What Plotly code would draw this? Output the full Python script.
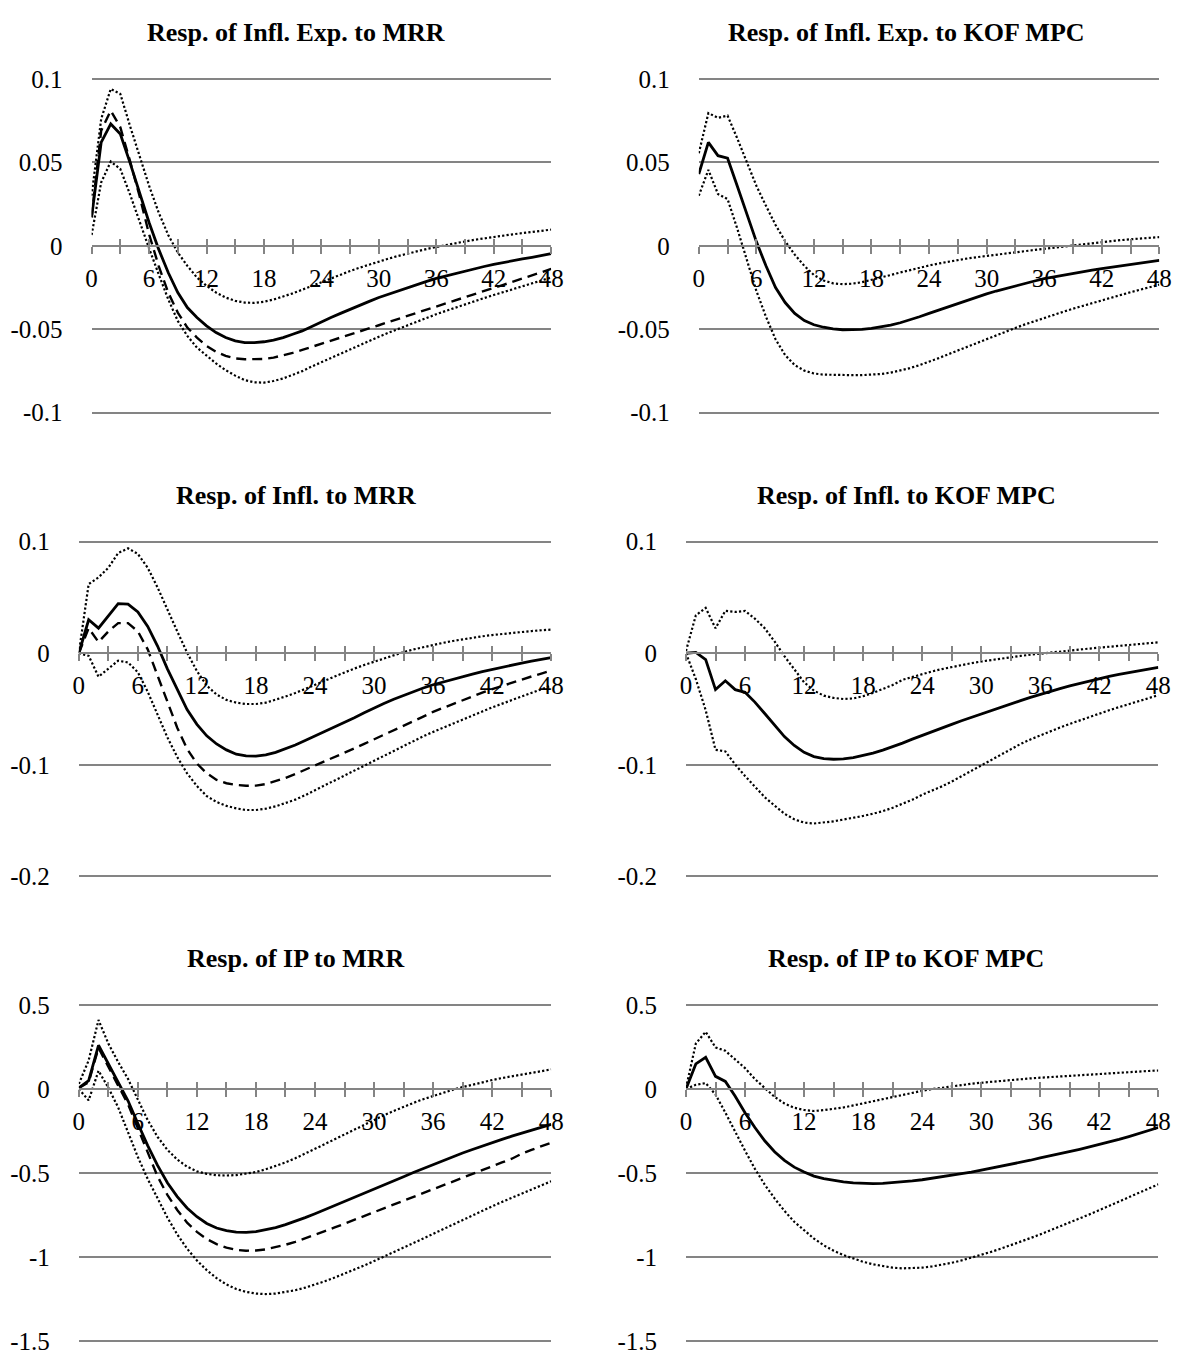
import plotly.graph_objects as go

horizon = list(range(49))

# ---------- Panel 1: Resp. of Infl. Exp. to MRR ----------
ie_mrr_est = [0.017, 0.062, 0.073, 0.067, 0.050, 0.032, 0.014, -0.002, -0.016, -0.028,
              -0.037, -0.043, -0.048, -0.052, -0.055, -0.057, -0.058, -0.058, -0.0575, -0.0565,
              -0.055, -0.053, -0.051, -0.0484, -0.0456, -0.043, -0.0405, -0.038, -0.0356, -0.0333,
              -0.031, -0.029, -0.027, -0.025, -0.0231, -0.0213, -0.0195, -0.018, -0.0165, -0.015,
              -0.0137, -0.0124, -0.0111, -0.0099, -0.0089, -0.0079, -0.0069, -0.0058, -0.0047]
ie_mrr_alt = [0.017, 0.069, 0.081, 0.071, 0.051, 0.030, 0.007, -0.012, -0.028, -0.040,
              -0.049, -0.055, -0.060, -0.0635, -0.066, -0.0675, -0.068, -0.068, -0.0678, -0.067,
              -0.0658, -0.0642, -0.0624, -0.0606, -0.0587, -0.0569, -0.0551, -0.0533, -0.0514, -0.0495,
              -0.0476, -0.0457, -0.0438, -0.0419, -0.040, -0.0382, -0.0364, -0.0345, -0.0326, -0.0307,
              -0.0288, -0.027, -0.0252, -0.0234, -0.0216, -0.0198, -0.0178, -0.0158, -0.0138]
ie_mrr_up = [0.030, 0.076, 0.094, 0.091, 0.072, 0.054, 0.036, 0.020, 0.0065, -0.004,
             -0.012, -0.019, -0.024, -0.028, -0.031, -0.033, -0.034, -0.0342, -0.0335, -0.0322,
             -0.0305, -0.0285, -0.0263, -0.024, -0.0217, -0.0194, -0.0172, -0.0151, -0.0131, -0.0112,
             -0.0094, -0.0077, -0.0061, -0.0046, -0.0032, -0.0019, -0.0007, 0.0005, 0.0016, 0.0026,
             0.0036, 0.0045, 0.0054, 0.0062, 0.0069, 0.0076, 0.0083, 0.009, 0.0097]
ie_mrr_lo = [0.0065, 0.038, 0.0505, 0.046, 0.031, 0.0143, -0.0015, -0.017, -0.032, -0.045,
             -0.054, -0.061, -0.066, -0.0705, -0.0745, -0.0778, -0.0805, -0.0818, -0.082, -0.081,
             -0.0795, -0.0774, -0.0751, -0.0723, -0.0697, -0.0671, -0.0645, -0.062, -0.0595, -0.057,
             -0.0545, -0.0521, -0.0498, -0.0475, -0.0453, -0.0431, -0.041, -0.039, -0.037, -0.035,
             -0.0331, -0.0313, -0.0295, -0.0277, -0.026, -0.0243, -0.0226, -0.0208, -0.019]

# ---------- Panel 2: Resp. of Infl. Exp. to KOF MPC ----------
ie_kof_est = [0.043, 0.062, 0.054, 0.0525, 0.036, 0.019, 0.0025, -0.012, -0.025, -0.034,
              -0.0405, -0.0448, -0.0473, -0.0488, -0.0498, -0.0503, -0.0504, -0.0501, -0.0495, -0.0486,
              -0.0475, -0.0461, -0.0445, -0.0425, -0.0405, -0.0385, -0.0365, -0.0345, -0.0325, -0.0306,
              -0.0288, -0.0271, -0.0255, -0.024, -0.0225, -0.0211, -0.0197, -0.0186, -0.0175, -0.0165,
              -0.0155, -0.0146, -0.0137, -0.0129, -0.0121, -0.0113, -0.0105, -0.0097, -0.0088]
ie_kof_up = [0.0555, 0.0795, 0.0767, 0.078, 0.0645, 0.0497, 0.036, 0.024, 0.0125, 0.0028,
             -0.0053, -0.012, -0.0175, -0.0208, -0.0225, -0.023, -0.0227, -0.0218, -0.0205, -0.019,
             -0.0175, -0.016, -0.0145, -0.0131, -0.0118, -0.0106, -0.0095, -0.0085, -0.0076, -0.0068,
             -0.006, -0.0053, -0.0046, -0.0039, -0.0032, -0.0025, -0.0018, -0.0011, -0.0004, 0.0003,
             0.001, 0.0017, 0.0023, 0.0029, 0.0034, 0.0039, 0.0044, 0.0048, 0.0052]
ie_kof_lo = [0.030, 0.0455, 0.031, 0.028, 0.0105, -0.009, -0.027, -0.0425, -0.056, -0.0655,
             -0.0715, -0.0748, -0.0765, -0.0772, -0.0774, -0.0775, -0.0775, -0.0775, -0.0773, -0.0768,
             -0.076, -0.0748, -0.0733, -0.0715, -0.0695, -0.0673, -0.065, -0.0627, -0.0603, -0.058,
             -0.0557, -0.0535, -0.0513, -0.0492, -0.0471, -0.0451, -0.0432, -0.0413, -0.0395, -0.0377,
             -0.036, -0.0343, -0.0326, -0.031, -0.0294, -0.0278, -0.0263, -0.0248, -0.0233]

# ---------- Panel 3: Resp. of Infl. to MRR ----------
inf_mrr_est = [0.0, 0.030, 0.0225, 0.033, 0.0445, 0.044, 0.037, 0.024, 0.0065, -0.014,
               -0.033, -0.0505, -0.0637, -0.074, -0.0813, -0.0866, -0.0905, -0.092, -0.0922, -0.091,
               -0.0888, -0.0858, -0.0822, -0.0782, -0.0742, -0.0703, -0.0664, -0.0625, -0.0579, -0.0534,
               -0.049, -0.045, -0.0412, -0.0376, -0.0342, -0.0311, -0.0282, -0.0257, -0.0233, -0.021,
               -0.0187, -0.0165, -0.0144, -0.0124, -0.0105, -0.0088, -0.0071, -0.0055, -0.004]
inf_mrr_alt = [0.0, 0.0225, 0.010, 0.0196, 0.027, 0.027, 0.0196, 0.0035, -0.020, -0.0433,
               -0.0667, -0.0857, -0.0988, -0.1076, -0.1135, -0.1165, -0.118, -0.1188, -0.1186, -0.1172,
               -0.1148, -0.1117, -0.1082, -0.1045, -0.1008, -0.097, -0.0932, -0.0893, -0.0853, -0.0812,
               -0.0772, -0.0732, -0.0692, -0.0653, -0.0615, -0.0568, -0.0525, -0.049, -0.0455, -0.042,
               -0.0386, -0.0353, -0.0322, -0.0292, -0.0263, -0.0235, -0.0208, -0.0182, -0.0156]
inf_mrr_up = [0.0, 0.062, 0.068, 0.0766, 0.0898, 0.094, 0.089, 0.0766, 0.059, 0.0386,
              0.0196, 0.0006, -0.016, -0.029, -0.037, -0.0418, -0.0443, -0.0455, -0.0455, -0.0443,
              -0.0418, -0.0388, -0.0356, -0.0321, -0.0285, -0.0247, -0.0208, -0.017, -0.0137, -0.0105,
              -0.0075, -0.0046, -0.0018, 0.001, 0.0034, 0.0055, 0.0075, 0.0093, 0.011, 0.0125,
              0.0139, 0.0152, 0.0163, 0.0173, 0.0182, 0.0191, 0.0199, 0.0206, 0.0212]
inf_mrr_lo = [0.0, -0.0023, -0.021, -0.014, -0.0067, -0.0082, -0.017, -0.0345, -0.055, -0.0754,
              -0.093, -0.1076, -0.119, -0.128, -0.1333, -0.1368, -0.139, -0.1405, -0.1405, -0.1393,
              -0.1372, -0.1345, -0.1312, -0.1272, -0.1225, -0.1183, -0.114, -0.1096, -0.1051, -0.1006,
              -0.096, -0.0915, -0.087, -0.0826, -0.0784, -0.0744, -0.0705, -0.0667, -0.063, -0.0594,
              -0.0559, -0.0522, -0.0485, -0.0452, -0.042, -0.0386, -0.0353, -0.0321, -0.029]

# ---------- Panel 4: Resp. of Infl. to KOF MPC ----------
inf_kof_est = [0.0, 0.0008, -0.0056, -0.0326, -0.0247, -0.0326, -0.035, -0.0438, -0.054, -0.0644,
               -0.0747, -0.0826, -0.0888, -0.0926, -0.0944, -0.095, -0.0947, -0.0935, -0.0918, -0.0895,
               -0.0868, -0.0838, -0.0805, -0.077, -0.0735, -0.0702, -0.0669, -0.0637, -0.0605, -0.0574,
               -0.0544, -0.0514, -0.0484, -0.0455, -0.0425, -0.0396, -0.0368, -0.0342, -0.0317, -0.0293,
               -0.027, -0.0248, -0.0227, -0.0208, -0.019, -0.0173, -0.0157, -0.0141, -0.0126]
inf_kof_up = [0.002, 0.034, 0.0406, 0.0224, 0.038, 0.037, 0.038, 0.031, 0.0224, 0.0106,
              -0.0026, -0.0144, -0.026, -0.0335, -0.038, -0.040, -0.041, -0.0405, -0.0385, -0.0355,
              -0.032, -0.0285, -0.0238, -0.0211, -0.0186, -0.0163, -0.0142, -0.0123, -0.0105, -0.0089,
              -0.0074, -0.006, -0.0047, -0.0035, -0.0024, -0.0013, -0.0003, 0.0007, 0.0016, 0.0025,
              0.0034, 0.0042, 0.005, 0.0058, 0.0066, 0.0074, 0.0082, 0.009, 0.0098]
inf_kof_lo = [0.0, -0.0232, -0.051, -0.0865, -0.088, -0.0997, -0.11, -0.12, -0.129, -0.1365,
              -0.1438, -0.1488, -0.1518, -0.1526, -0.1518, -0.1506, -0.149, -0.1476, -0.1458, -0.1438,
              -0.1415, -0.1385, -0.135, -0.1312, -0.1268, -0.1232, -0.1193, -0.115, -0.1102, -0.1052,
              -0.1002, -0.0953, -0.0905, -0.0858, -0.0813, -0.0772, -0.0735, -0.070, -0.0666, -0.0633,
              -0.0601, -0.057, -0.054, -0.0511, -0.0483, -0.0455, -0.0428, -0.0402, -0.0376]

# ---------- Panel 5: Resp. of IP to MRR ----------
ip_mrr_est = [0.006, 0.05, 0.26, 0.15, 0.04, -0.07, -0.205, -0.337, -0.455, -0.558,
              -0.64, -0.708, -0.76, -0.80, -0.827, -0.843, -0.851, -0.853, -0.849, -0.839,
              -0.825, -0.807, -0.787, -0.765, -0.742, -0.718, -0.694, -0.67, -0.646, -0.621,
              -0.597, -0.572, -0.547, -0.522, -0.497, -0.473, -0.449, -0.426, -0.403, -0.381,
              -0.36, -0.339, -0.319, -0.30, -0.281, -0.263, -0.245, -0.228, -0.211]
ip_mrr_alt = [0.006, 0.04, 0.245, 0.13, 0.02, -0.09, -0.235, -0.385, -0.52, -0.63,
              -0.72, -0.795, -0.85, -0.893, -0.923, -0.944, -0.957, -0.962, -0.961, -0.954,
              -0.942, -0.927, -0.909, -0.889, -0.868, -0.846, -0.824, -0.801, -0.778, -0.755,
              -0.732, -0.709, -0.686, -0.663, -0.64, -0.617, -0.594, -0.571, -0.548, -0.525,
              -0.503, -0.481, -0.459, -0.437, -0.415, -0.385, -0.362, -0.341, -0.32]
ip_mrr_up = [0.03, 0.17, 0.41, 0.27, 0.16, 0.06, -0.063, -0.185, -0.285, -0.362,
             -0.42, -0.462, -0.49, -0.505, -0.513, -0.515, -0.512, -0.505, -0.494, -0.478,
             -0.459, -0.437, -0.412, -0.385, -0.357, -0.328, -0.299, -0.27, -0.241, -0.212,
             -0.184, -0.157, -0.131, -0.106, -0.083, -0.061, -0.041, -0.022, -0.005, 0.011,
             0.026, 0.04, 0.053, 0.065, 0.076, 0.087, 0.097, 0.107, 0.116]
ip_mrr_lo = [0.0, -0.068, 0.108, 0.008, -0.11, -0.255, -0.405, -0.535, -0.655, -0.765,
             -0.865, -0.95, -1.02, -1.078, -1.125, -1.163, -1.19, -1.207, -1.217, -1.22,
             -1.217, -1.209, -1.197, -1.182, -1.164, -1.144, -1.122, -1.099, -1.075, -1.05,
             -1.024, -0.998, -0.972, -0.945, -0.918, -0.89, -0.862, -0.834, -0.806, -0.779,
             -0.752, -0.725, -0.698, -0.672, -0.647, -0.622, -0.597, -0.573, -0.549]

# ---------- Panel 6: Resp. of IP to KOF MPC ----------
ip_kof_est = [0.0, 0.149, 0.188, 0.075, 0.045, -0.043, -0.141, -0.229, -0.308, -0.373,
              -0.425, -0.465, -0.494, -0.518, -0.533, -0.545, -0.553, -0.559, -0.562, -0.563,
              -0.562, -0.558, -0.553, -0.547, -0.54, -0.532, -0.523, -0.514, -0.504, -0.494,
              -0.483, -0.472, -0.461, -0.45, -0.438, -0.424, -0.41, -0.398, -0.385, -0.372,
              -0.359, -0.345, -0.331, -0.316, -0.30, -0.283, -0.265, -0.247, -0.229]
ip_kof_up = [0.006, 0.27, 0.34, 0.247, 0.227, 0.173, 0.124, 0.059, 0.006, -0.047,
             -0.086, -0.112, -0.125, -0.131, -0.126, -0.12, -0.11, -0.098, -0.085, -0.072,
             -0.059, -0.046, -0.034, -0.022, -0.011, -0.001, 0.008, 0.016, 0.024, 0.031,
             0.037, 0.043, 0.048, 0.053, 0.058, 0.063, 0.067, 0.071, 0.075, 0.079,
             0.083, 0.087, 0.09, 0.094, 0.097, 0.10, 0.104, 0.107, 0.11]
ip_kof_lo = [0.0, 0.025, 0.035, -0.033, -0.141, -0.259, -0.367, -0.475, -0.569, -0.651,
             -0.725, -0.79, -0.843, -0.89, -0.93, -0.962, -0.988, -1.01, -1.028, -1.043,
             -1.055, -1.063, -1.067, -1.067, -1.063, -1.056, -1.046, -1.034, -1.02, -1.004,
             -0.987, -0.969, -0.95, -0.93, -0.909, -0.887, -0.865, -0.842, -0.819, -0.795,
             -0.771, -0.746, -0.721, -0.696, -0.671, -0.645, -0.619, -0.593, -0.567]

titles = ["Resp. of Infl. Exp. to MRR", "Resp. of Infl. Exp. to KOF MPC",
          "Resp. of Infl. to MRR", "Resp. of Infl. to KOF MPC",
          "Resp. of IP to MRR", "Resp. of IP to KOF MPC"]

y_ticks_ie = [-0.1, -0.05, 0, 0.05, 0.1]
y_text_ie = ["-0.1", "-0.05", "0", "0.05", "0.1"]
y_ticks_inf = [-0.2, -0.1, 0, 0.1]
y_text_inf = ["-0.2", "-0.1", "0", "0.1"]
y_ticks_ip = [-1.5, -1, -0.5, 0, 0.5]
y_text_ip = ["-1.5", "-1", "-0.5", "0", "0.5"]

x_tick_vals = list(range(0, 49, 3))
x_tick_text = [str(v) if v % 6 == 0 else "" for v in x_tick_vals]

panels = [
    dict(title=titles[0], est=ie_mrr_est, alt=ie_mrr_alt, up=ie_mrr_up, lo=ie_mrr_lo,
         yr=[-0.1, 0.1], yt=y_ticks_ie, ytt=y_text_ie),
    dict(title=titles[1], est=ie_kof_est, alt=None, up=ie_kof_up, lo=ie_kof_lo,
         yr=[-0.1, 0.1], yt=y_ticks_ie, ytt=y_text_ie),
    dict(title=titles[2], est=inf_mrr_est, alt=inf_mrr_alt, up=inf_mrr_up, lo=inf_mrr_lo,
         yr=[-0.2, 0.1], yt=y_ticks_inf, ytt=y_text_inf),
    dict(title=titles[3], est=inf_kof_est, alt=None, up=inf_kof_up, lo=inf_kof_lo,
         yr=[-0.2, 0.1], yt=y_ticks_inf, ytt=y_text_inf),
    dict(title=titles[4], est=ip_mrr_est, alt=ip_mrr_alt, up=ip_mrr_up, lo=ip_mrr_lo,
         yr=[-1.5, 0.5], yt=y_ticks_ip, ytt=y_text_ip),
    dict(title=titles[5], est=ip_kof_est, alt=None, up=ip_kof_up, lo=ip_kof_lo,
         yr=[-1.5, 0.5], yt=y_ticks_ip, ytt=y_text_ip),
]

# layout geometry (pixels) -> paper fractions
W, H = 1193, 1361
x_px = [(87, 554), (704, 1172), (74, 554), (691, 1171), (74, 554), (691, 1171)]
y_px = [(70, 409), (70, 409), (540, 880), (540, 880), (1010.5, 1352), (1010.5, 1352)]
title_px = [(295, 23), (915, 23), (295, 493), (915, 493), (295, 963), (915, 963)]

GRID = "#848484"
FONT = "Liberation Serif"
PAD_PX = 3.0  # small padding so that the outermost gridlines are drawn

fig = go.Figure()
layout = dict(width=W, height=H, margin=dict(l=0, r=0, t=0, b=0),
              paper_bgcolor="white", plot_bgcolor="white", showlegend=False,
              annotations=[])

for i, p in enumerate(panels, start=1):
    xa, ya = f"x{i}", f"y{i}"
    xo = f"x{i + 6}"
    xd = [x_px[i - 1][0] / W, x_px[i - 1][1] / W]
    top_px, bot_px = y_px[i - 1]
    span = p["yr"][1] - p["yr"][0]
    pad_val = PAD_PX / (bot_px - top_px) * span
    yr = [p["yr"][0] - pad_val, p["yr"][1] + pad_val]
    yd = [1 - (bot_px + PAD_PX) / H, 1 - (top_px - PAD_PX) / H]
    zero_pos = yd[0] + (0 - yr[0]) / (yr[1] - yr[0]) * (yd[1] - yd[0])

    for series, dash, width in [(p["up"], "2.2px,2.2px", 2.2), (p["lo"], "2.2px,2.2px", 2.2),
                                (p["alt"], "10px,6px", 2.4), (p["est"], "solid", 2.8)]:
        if series is None:
            continue
        fig.add_trace(go.Scatter(x=horizon, y=series, mode="lines", xaxis=xa, yaxis=ya,
                                 line=dict(color="black", width=width, dash=dash),
                                 hoverinfo="skip", showlegend=False))
    # empty trace so the overlay tick axis is created
    fig.add_trace(go.Scatter(x=[None], y=[None], mode="lines", xaxis=xo, yaxis=ya,
                             hoverinfo="skip", showlegend=False))

    xkey = "xaxis" if i == 1 else f"xaxis{i}"
    ykey = "yaxis" if i == 1 else f"yaxis{i}"
    layout[xkey] = dict(domain=xd, range=[0, 48], anchor="free", position=zero_pos,
                        showgrid=False, zeroline=False, showline=True, linecolor=GRID,
                        linewidth=1.8, ticks="outside", ticklen=7, tickwidth=1.8,
                        tickcolor=GRID, tickvals=x_tick_vals, ticktext=x_tick_text,
                        ticklabelstandoff=3,
                        tickfont=dict(family=FONT, size=25, color="black"))
    layout[f"xaxis{i + 6}"] = dict(domain=xd, range=[0, 48], anchor="free", position=zero_pos,
                                   overlaying=xa, showgrid=False, zeroline=False, showline=False,
                                   ticks="inside", ticklen=7, tickwidth=1.8, tickcolor=GRID,
                                   tickvals=x_tick_vals, showticklabels=False)
    layout[ykey] = dict(domain=yd, range=yr, anchor=xa, showgrid=True, gridcolor=GRID,
                        gridwidth=1.8, zeroline=False, showline=False, ticks="",
                        tickvals=p["yt"], ticktext=p["ytt"], ticklabelstandoff=28,
                        tickfont=dict(family=FONT, size=25, color="black"))
    tx, ty = title_px[i - 1]
    layout["annotations"].append(dict(text=p["title"], x=tx / W, y=1 - ty / H,
                                      xref="paper", yref="paper", xanchor="center",
                                      yanchor="middle", showarrow=False,
                                      font=dict(family=FONT, size=26, color="black",
                                                weight="bold")))

fig.update_layout(**layout)
fig.write_html("out.html")
